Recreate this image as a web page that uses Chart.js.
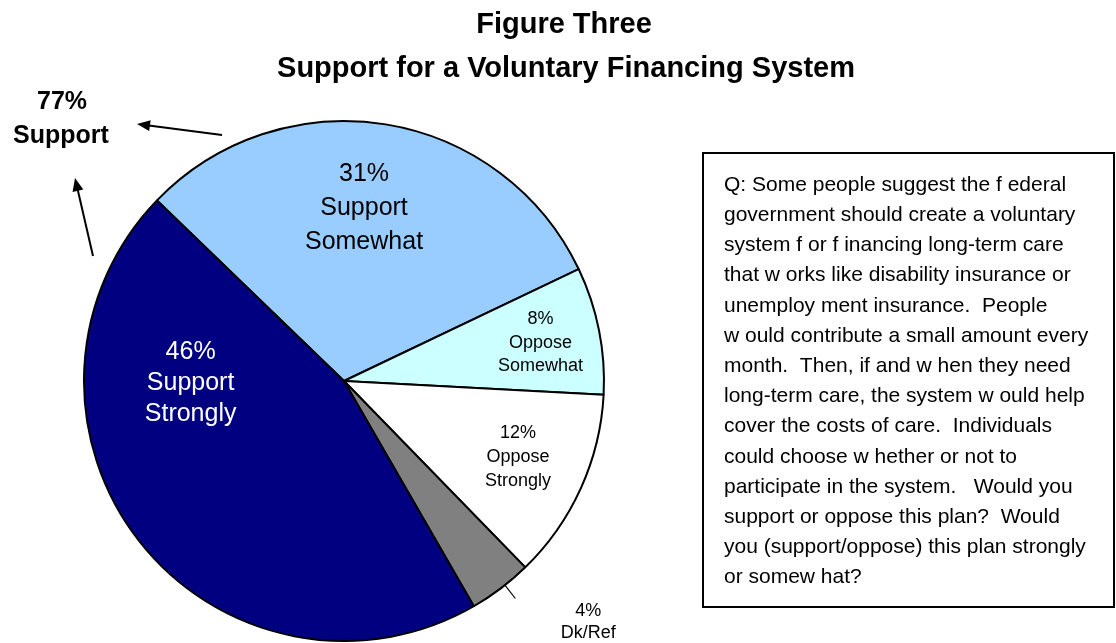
<!DOCTYPE html>
<html>
<head>
<meta charset="utf-8">
<script src="https://cdn.jsdelivr.net/npm/chart.js@4"></script>
<style>
  body { margin: 0; background: #fff; }
  #wrap { position: relative; width: 1116px; height: 643px; }
</style>
</head>
<body>
<div id="wrap"><canvas id="grafico"></canvas></div>
<script>
// Fatias da pizza, na ordem em que são desenhadas (sentido horário)
const categorias = ['Support Somewhat', 'Oppose Somewhat', 'Oppose Strongly', 'Dk/Ref', 'Support Strongly'];
const valores = [31, 8, 12, 4, 46];
const cores = ['#99ccff', '#ccffff', '#ffffff', '#808080', '#000080'];
const corTexto = ['#000', '#000', '#000', '#000', '#fff'];
const rotulos = [['Support', 'Somewhat'], ['Oppose', 'Somewhat'], ['Oppose', 'Strongly'], ['Dk/Ref'], ['Support', 'Strongly']];

// Posição de cada rótulo: ângulo (graus, a partir do topo) e fração do raio
const posRotulo = [[6.6, 0.67], [79, 0.77], [113.5, 0.73], [134.6, 1.32], [-90.7, 0.59]];
const tamRotulo = [25, 18, 18, 18, 25];
const alturaLinha = [34, 23.5, 24, 22, 31];

const pergunta = [
  'Q: Some people suggest the f ederal',
  'government should create a voluntary',
  'system f or f inancing long-term care',
  'that w orks like disability insurance or',
  'unemploy ment insurance.  People',
  'w ould contribute a small amount every',
  'month.  Then, if and w hen they need',
  'long-term care, the system w ould help',
  'cover the costs of care.  Individuals',
  'could choose w hether or not to',
  'participate in the system.   Would you',
  'support or oppose this plan?  Would',
  'you (support/oppose) this plan strongly',
  'or somew hat?'
];

const FONTE = '"Liberation Sans", Arial, sans-serif';

function seta(ctx, x1, y1, x2, y2) {
  const a = Math.atan2(y2 - y1, x2 - x1);
  ctx.beginPath();
  ctx.moveTo(x1, y1);
  ctx.lineTo(x2 - 8 * Math.cos(a), y2 - 8 * Math.sin(a));
  ctx.strokeStyle = '#000';
  ctx.lineWidth = 2;
  ctx.stroke();
  ctx.beginPath();
  ctx.moveTo(x2, y2);
  ctx.lineTo(x2 - 13 * Math.cos(a) + 5.5 * Math.sin(a), y2 - 13 * Math.sin(a) - 5.5 * Math.cos(a));
  ctx.lineTo(x2 - 13 * Math.cos(a) - 5.5 * Math.sin(a), y2 - 13 * Math.sin(a) + 5.5 * Math.cos(a));
  ctx.closePath();
  ctx.fillStyle = '#000';
  ctx.fill();
}

// Plugin que escreve os rótulos das fatias, o título, as setas e a caixa da pergunta
const extras = {
  id: 'extras',
  afterDatasetsDraw(chart) {
    const ctx = chart.ctx;
    const arcos = chart.getDatasetMeta(0).data;
    ctx.save();
    ctx.textAlign = 'center';
    ctx.textBaseline = 'middle';
    arcos.forEach((arc, i) => {
      const R = arc.outerRadius;
      const ang = (posRotulo[i][0] - 90) * Math.PI / 180;
      const cx = arc.x + Math.cos(ang) * R * posRotulo[i][1];
      const cy = arc.y + Math.sin(ang) * R * posRotulo[i][1];
      const linhas = [valores[i] + '%'].concat(rotulos[i]);
      ctx.font = tamRotulo[i] + 'px ' + FONTE;
      ctx.fillStyle = corTexto[i];
      const h = alturaLinha[i];
      linhas.forEach((t, k) => {
        ctx.fillText(t, cx, cy + (k - (linhas.length - 1) / 2) * h);
      });
      // linha de chamada para a fatia pequena
      if (posRotulo[i][1] > 1) {
        const meio = (arc.startAngle + arc.endAngle) / 2 - 0.02;
        ctx.beginPath();
        ctx.moveTo(arc.x + Math.cos(meio) * R, arc.y + Math.sin(meio) * R);
        ctx.lineTo(arc.x + Math.cos(meio) * R * 1.065, arc.y + Math.sin(meio) * R * 1.065);
        ctx.strokeStyle = '#000';
        ctx.lineWidth = 1.2;
        ctx.stroke();
      }
    });
    ctx.restore();
  },
  afterDraw(chart) {
    const ctx = chart.ctx;
    ctx.save();
    // título
    ctx.fillStyle = '#000';
    ctx.textAlign = 'center';
    ctx.textBaseline = 'middle';
    ctx.font = 'bold 29px ' + FONTE;
    ctx.fillText('Figure Three', 564, 25);
    ctx.fillText('Support for a Voluntary Financing System', 566, 69);

    // total de apoio
    ctx.font = 'bold 25px ' + FONTE;
    ctx.fillText('77%', 62, 102);
    ctx.fillText('Support', 61, 136);
    seta(ctx, 222, 135, 137, 124);
    seta(ctx, 93, 256, 75, 178);

    // caixa da pergunta
    ctx.strokeStyle = '#000';
    ctx.lineWidth = 2;
    ctx.strokeRect(703, 153, 411, 454);
    ctx.textAlign = 'left';
    ctx.font = '21px ' + FONTE;
    pergunta.forEach((t, k) => {
      ctx.fillText(t, 724, 185 + k * 30.2);
    });
    ctx.restore();
  }
};

const grafico = new Chart(document.getElementById('grafico'), {
  type: 'pie',
  data: {
    labels: categorias,
    datasets: [{
      data: valores,
      backgroundColor: cores,
      borderColor: '#000',
      borderWidth: 2
    }]
  },
  options: {
    responsive: true,
    maintainAspectRatio: false,
    animation: false,
    rotation: -46,
    layout: { padding: { left: 83, top: 120, right: 511, bottom: 1 } },
    plugins: {
      legend: { display: false },
      tooltip: { enabled: false }
    }
  },
  plugins: [extras]
});
</script>
</body>
</html>
